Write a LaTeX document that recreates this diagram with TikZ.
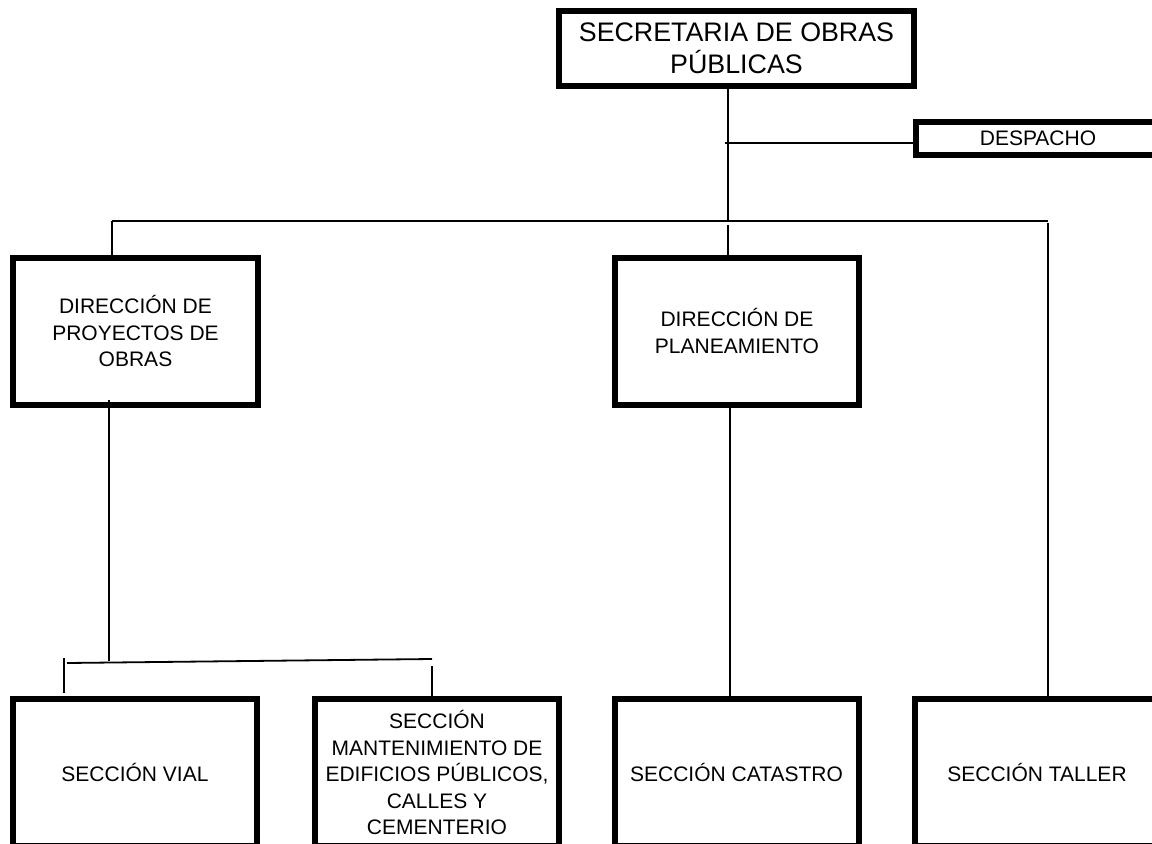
\documentclass[tikz,border=0pt]{standalone}
\usepackage{fontspec}
\setmainfont{Liberation Sans}
\begin{document}
\begin{tikzpicture}[x=1bp,y=-1bp,
  box/.style={draw, line width=6bp, rectangle, inner sep=0pt, align=center,
    minimum width=244bp, minimum height=147bp, font=\fontsize{21bp}{26.5bp}\selectfont},
  topbox/.style={box, minimum width=355bp, minimum height=75bp, font=\fontsize{26.8bp}{32bp}\selectfont},
  thinbox/.style={box, minimum height=33bp},
  conn/.style={line width=1.8bp}]
\clip (0,0) rectangle (1152,844);
\fill[white] (0,0) rectangle (1152,844);

\node[topbox] (sec) at (736.5,48.5) {SECRETARIA DE OBRAS\\PÚBLICAS};
\node[thinbox] (desp) at (1038,138.5) {DESPACHO};
\node[box] (dpo) at (135.5,331) {DIRECCIÓN DE\\PROYECTOS DE\\OBRAS};
\node[box] (dpl) at (737,331) {DIRECCIÓN DE\\PLANEAMIENTO};
\node[box] (vial) at (135,772.5) {SECCIÓN VIAL};
\node[box] (mant) at (437,772.5) {SECCIÓN\\MANTENIMIENTO DE\\EDIFICIOS PÚBLICOS,\\CALLES Y\\CEMENTERIO};
\node[box] (cat) at (736.5,772.5) {SECCIÓN CATASTRO};
\node[box] (tal) at (1037,772.5) {SECCIÓN TALLER};

\coordinate (busC) at (728,221);
\coordinate (busL) at (112,221);
\coordinate (busR) at (1048,221);
\coordinate (despJ) at (725,143);
\coordinate (subC) at (109,661);
\coordinate (subL) at (67,663);
\coordinate (subR) at (432,659);
\coordinate (vialT) at (64,658);
\coordinate (mantT) at (432,666);
\coordinate (plx) at (730,500);

\draw[conn] (sec.south -| busC) -- (busC);
\draw[conn] (despJ) -- (desp.west |- despJ);
\draw[conn] (busL) -- (busR);
\draw[conn] (busL) -- (dpo.north -| busL);
\draw[conn] ([yshift=-4bp]busC) -- (dpl.north -| busC);
\draw[conn] ([yshift=-2bp]busR) -- (tal.north -| busR);
\draw[conn] ([yshift=8bp]dpo.south -| subC) -- (subC);
\draw[conn] (subL) -- (subR);
\draw[conn] (vialT) -- ([yshift=3bp]vial.north -| vialT);
\draw[conn] (mantT) -- (mant.north -| mantT);
\draw[conn] (dpl.south -| plx) -- (cat.north -| plx);
\end{tikzpicture}
\end{document}
